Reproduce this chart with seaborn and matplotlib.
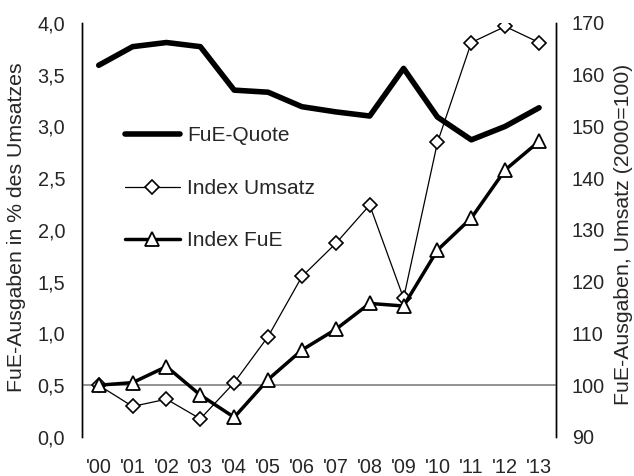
import matplotlib
matplotlib.use("Agg")
import matplotlib.pyplot as plt
import seaborn as sns
import pandas as pd

# Data
jahre = ["'00", "'01", "'02", "'03", "'04", "'05", "'06", "'07", "'08", "'09", "'10", "'11", "'12", "'13"]
fue_quote = [3.59, 3.77, 3.81, 3.77, 3.35, 3.33, 3.19, 3.14, 3.10, 3.56, 3.09, 2.87, 3.00, 3.18]
index_umsatz = [100.0, 95.9, 97.3, 93.5, 100.5, 109.4, 121.0, 127.4, 134.8, 116.8, 146.9, 166.2, 169.3, 166.2]
index_fue = [100.0, 100.5, 103.6, 98.1, 93.8, 101.1, 106.8, 110.8, 115.8, 115.3, 126.1, 132.3, 141.6, 147.1]

df = pd.DataFrame({
    'Jahr': jahre,
    'x': range(len(jahre)),
    'FuE-Quote': fue_quote,
    'Index Umsatz': index_umsatz,
    'Index FuE': index_fue,
})

sns.set_style("white")
plt.rcParams['font.family'] = ['Liberation Sans', 'DejaVu Sans']

fig = plt.figure(figsize=(6.34, 4.76), dpi=100)
ax = fig.add_axes([0.129, 0.082, 0.748, 0.870])
ax2 = ax.twinx()

# Left axis: FuE-Quote
sns.lineplot(data=df, x='x', y='FuE-Quote', ax=ax, color='black', linewidth=4.0,
             solid_capstyle='round', label='FuE-Quote', legend=False)

# Right axis: indices
ax2.axhline(100, color='#808080', linewidth=1.2, zorder=1)
sns.lineplot(data=df, x='x', y='Index Umsatz', ax=ax2, color='black', linewidth=0.9,
             marker='D', markersize=7, markerfacecolor='white', markeredgecolor='black',
             markeredgewidth=1.2, label='Index Umsatz', legend=False, zorder=3)
sns.lineplot(data=df, x='x', y='Index FuE', ax=ax2, color='black', linewidth=2.5,
             marker='^', markersize=10, markerfacecolor='white', markeredgecolor='black',
             markeredgewidth=1.3, label='Index FuE', legend=False, zorder=4)

ax.set_xlim(-0.5, len(jahre) - 0.5)
ax.set_ylim(0, 4)
ax.set_yticks([0, 0.5, 1, 1.5, 2, 2.5, 3, 3.5, 4])
ax.set_yticklabels([f"{v:.1f}".replace('.', ',') for v in ax.get_yticks()])
ax2.set_ylim(90, 170)
ax2.set_yticks(range(90, 171, 10))
ax.set_xticks(df['x'])
ax.set_xticklabels(jahre)

ax.set_xlabel('')
ax.set_ylabel('FuE-Ausgaben in % des Umsatzes', fontsize=15.3, va='center')
ax2.set_ylabel('FuE-Ausgaben, Umsatz (2000=100)', fontsize=15.3, va='center')
ax.yaxis.set_label_coords(-0.137, 0.506)
ax2.yaxis.set_label_coords(1.143, 0.49)

for a in (ax, ax2):
    a.tick_params(axis='both', length=0, labelsize=14.3)
    a.spines['top'].set_visible(False)
    a.spines['bottom'].set_visible(False)
    a.spines['left'].set_color('black')
    a.spines['right'].set_color('black')
    a.spines['left'].set_linewidth(1.0)
    a.spines['right'].set_linewidth(1.0)
ax.tick_params(axis='y', pad=12)
ax2.tick_params(axis='y', pad=11.5)
ax.tick_params(axis='x', pad=15)

# Legend combining both axes
h1, l1 = ax.get_legend_handles_labels()
h2, l2 = ax2.get_legend_handles_labels()
ax2.legend(h1 + h2, l1 + l2, loc='upper left', bbox_to_anchor=(0.051, 0.795), frameon=False,
           fontsize=15, handlelength=2.65, handletextpad=0.35, labelspacing=1.6)

fig.savefig("out.png", dpi=100)
